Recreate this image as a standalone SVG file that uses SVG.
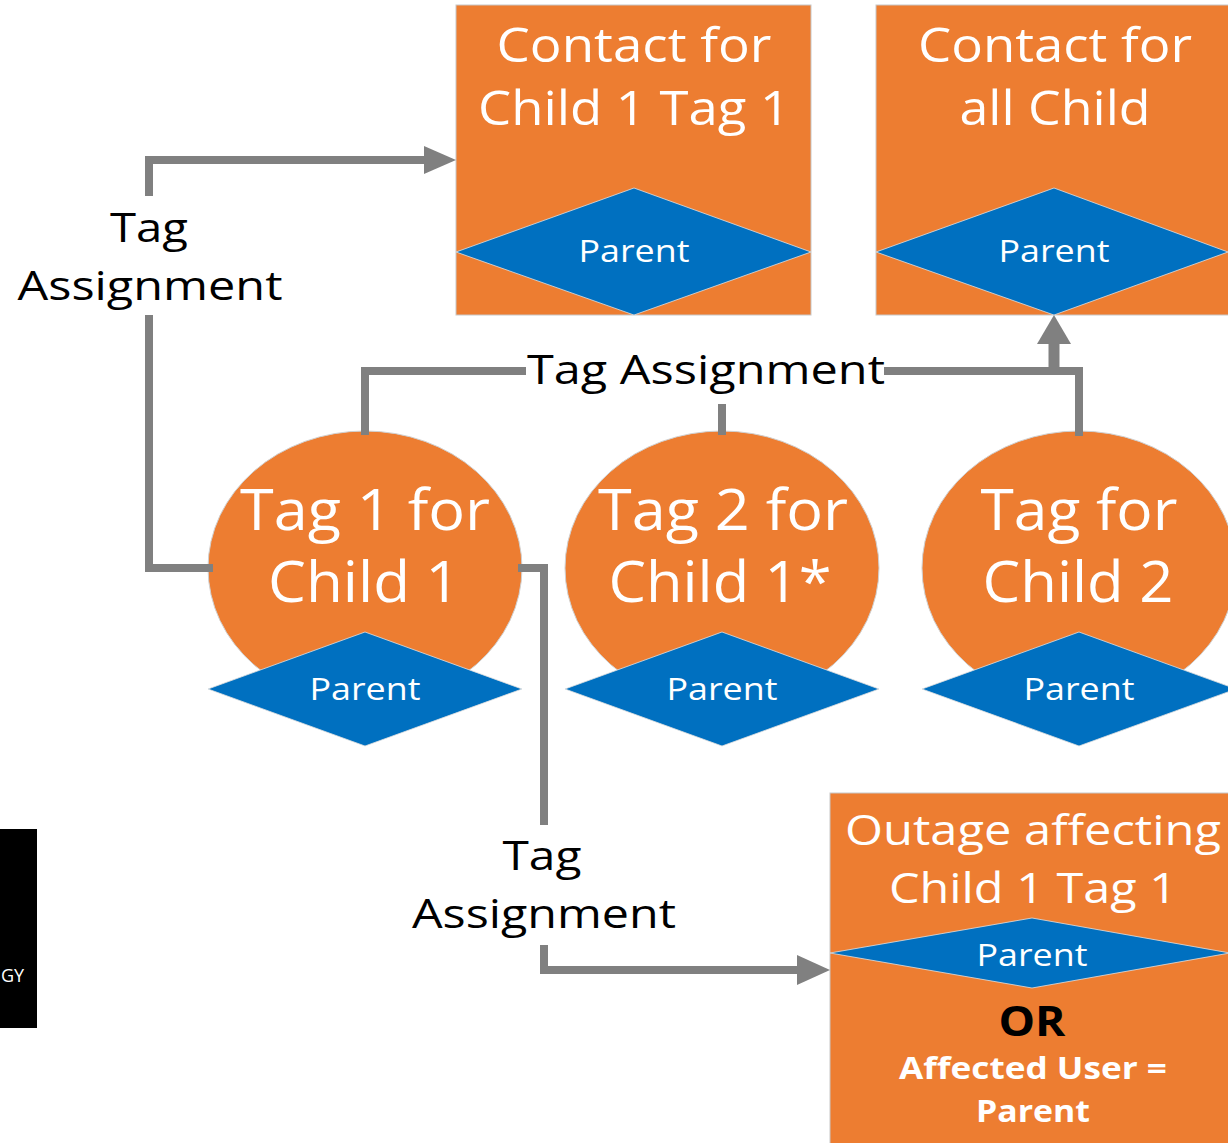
<svg xmlns="http://www.w3.org/2000/svg" width="1228" height="1143" viewBox="0 0 1228 1143">
<style>
.box{fill:#ED7D31;stroke:#c8c8c8;stroke-width:1}
.blob{fill:#ED7D31;stroke:#d0d0d0;stroke-width:1}
.dia{fill:#0070C0;stroke:#e0e0e0;stroke-width:0.8}
.t{font-family:"Open Sans","Noto Sans",sans-serif;fill:#fff;text-anchor:middle}
.lbl{font-family:"Open Sans","Noto Sans",sans-serif;fill:#000;text-anchor:middle;font-size:41px}
.con{fill:none;stroke:#808080;stroke-width:8}
.ah{fill:#808080}
</style>
<rect x="0" y="829" width="37" height="199" fill="#000"/>
<text x="1" y="982" font-family="Open Sans, sans-serif" font-size="18" fill="#fff">GY</text>

<g id="contact1">
<rect class="box" x="456" y="5" width="355" height="310"/>
<text class="t" x="634" y="62" font-size="48" textLength="275" lengthAdjust="spacingAndGlyphs">Contact for</text>
<text class="t" x="634" y="125" font-size="48" textLength="312" lengthAdjust="spacingAndGlyphs">Child 1 Tag 1</text>
<polygon class="dia" points="456,252 634,188 811,252 634,315"/>
<text class="t" x="634" y="262" font-size="31" textLength="111" lengthAdjust="spacingAndGlyphs">Parent</text>
</g>
<g id="contactAll">
<rect class="box" x="876" y="5" width="355" height="310"/>
<text class="t" x="1055" y="62" font-size="48" textLength="274" lengthAdjust="spacingAndGlyphs">Contact for</text>
<text class="t" x="1055" y="125" font-size="48" textLength="191" lengthAdjust="spacingAndGlyphs">all Child</text>
<polygon class="dia" points="876,252 1054,188 1228,252 1054,315"/>
<text class="t" x="1054" y="262" font-size="31" textLength="111" lengthAdjust="spacingAndGlyphs">Parent</text>
</g>
<g id="tag1">
<ellipse class="blob" cx="365" cy="568" rx="157" ry="137"/>
<text class="t" x="365" y="530" font-size="57" textLength="250" lengthAdjust="spacingAndGlyphs">Tag 1 for</text>
<text class="t" x="364" y="602" font-size="57" textLength="192" lengthAdjust="spacingAndGlyphs">Child 1</text>
<polygon class="dia" points="208,689 365,632 522,689 365,746"/>
<text class="t" x="365" y="700" font-size="31" textLength="111" lengthAdjust="spacingAndGlyphs">Parent</text>
</g>
<g id="tag2">
<ellipse class="blob" cx="722" cy="568" rx="157" ry="137"/>
<text class="t" x="723" y="530" font-size="57" textLength="250" lengthAdjust="spacingAndGlyphs">Tag 2 for</text>
<text class="t" x="720" y="602" font-size="57" textLength="223" lengthAdjust="spacingAndGlyphs">Child 1*</text>
<polygon class="dia" points="565,689 722,632 879,689 722,746"/>
<text class="t" x="722" y="700" font-size="31" textLength="111" lengthAdjust="spacingAndGlyphs">Parent</text>
</g>
<g id="tagChild2">
<ellipse class="blob" cx="1079" cy="568" rx="157" ry="137"/>
<text class="t" x="1079" y="530" font-size="57" textLength="197" lengthAdjust="spacingAndGlyphs">Tag for</text>
<text class="t" x="1078" y="602" font-size="57" textLength="191" lengthAdjust="spacingAndGlyphs">Child 2</text>
<polygon class="dia" points="922,689 1079,632 1236,689 1079,746"/>
<text class="t" x="1079" y="700" font-size="31" textLength="111" lengthAdjust="spacingAndGlyphs">Parent</text>
</g>
<g id="outage">
<rect class="box" x="830" y="793" width="400" height="352"/>
<text class="t" x="1033" y="845" font-size="42" textLength="376" lengthAdjust="spacingAndGlyphs">Outage affecting</text>
<text class="t" x="1033" y="903" font-size="42" textLength="288" lengthAdjust="spacingAndGlyphs">Child 1 Tag 1</text>
<polygon class="dia" points="830,953 1032,918 1230,953 1032,988"/>
<text class="t" x="1032" y="966" font-size="31" textLength="111" lengthAdjust="spacingAndGlyphs">Parent</text>
<text x="1032" y="1036" font-family="Open Sans, sans-serif" font-weight="bold" font-size="41" fill="#000" text-anchor="middle" textLength="67" lengthAdjust="spacingAndGlyphs">OR</text>
<text class="t" x="1033" y="1079" font-size="31" font-weight="bold" textLength="268" lengthAdjust="spacingAndGlyphs">Affected User =</text>
<text class="t" x="1033" y="1122" font-size="31" font-weight="bold" textLength="114" lengthAdjust="spacingAndGlyphs">Parent</text>
</g>

<g id="connectors">
<path class="con" d="M213,568 H149 V315"/>
<path class="con" d="M149,196 V160 H426"/>
<polygon class="ah" points="424,146 456,160 424,174"/>
<text class="lbl" x="149" y="242" textLength="78" lengthAdjust="spacingAndGlyphs">Tag</text>
<text class="lbl" x="150" y="300" textLength="265" lengthAdjust="spacingAndGlyphs">Assignment</text>

<path class="con" d="M518,568 H544 V825"/>
<path class="con" d="M544,945 V970 H800"/>
<polygon class="ah" points="797,955 830,970 797,985"/>
<text class="lbl" x="542" y="870" textLength="79" lengthAdjust="spacingAndGlyphs">Tag</text>
<text class="lbl" x="544" y="928" textLength="264" lengthAdjust="spacingAndGlyphs">Assignment</text>

<path class="con" d="M365,435 V371 H526"/>
<path class="con" d="M884,371 H1079 V436"/>
<path class="con" d="M722,404 V435"/>
<path class="con" style="stroke-width:11" d="M1054,371 V340"/>
<polygon class="ah" points="1037,344 1054,315 1071,344"/>
<text class="lbl" x="706" y="384" textLength="358" lengthAdjust="spacingAndGlyphs">Tag Assignment</text>
</g>
</svg>
